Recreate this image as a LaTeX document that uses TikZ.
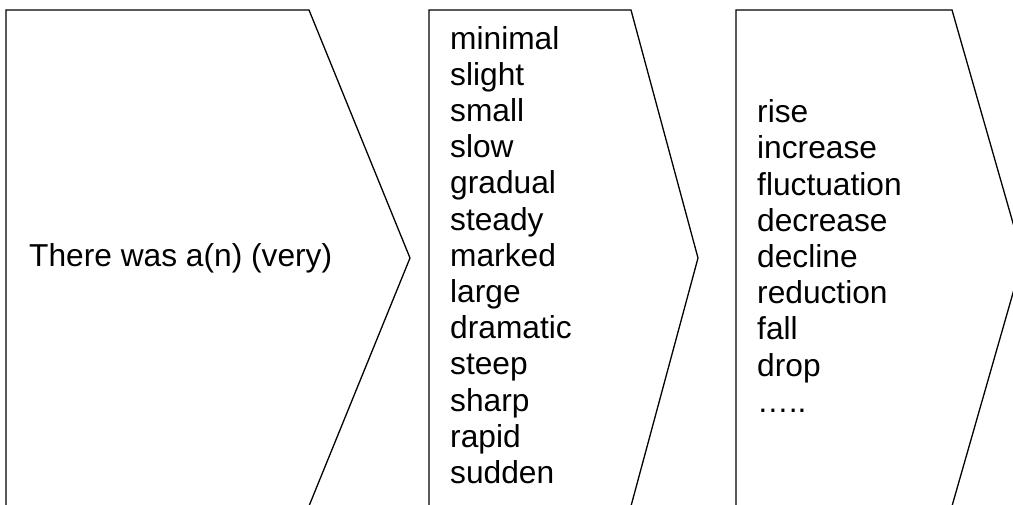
\documentclass[tikz,border=0pt]{standalone}
\usepackage{fontspec}
\setmainfont{Liberation Sans}
\usetikzlibrary{positioning}

\begin{document}
\begin{tikzpicture}[x=1pt, y=-1pt,
    chev/.style={draw=black, line width=1.3pt, line join=miter},
    words/.style={align=left, inner sep=0pt, anchor=west,
      font=\fontsize{31.7}{36.2}\selectfont}]
    \useasboundingbox (0,0) rectangle (1013,504);
    \clip (0,0) rectangle (1013,504);

    % Chevron shapes
    \draw[chev] (6,10) -- (309,10) -- (410,258) -- (309,506) -- (6,506) -- cycle;
    \draw[chev] (429,10) -- (631,10) -- (698,258) -- (631,506) -- (429,506) -- cycle;
    \draw[chev] (736,10) -- (952,10) -- (1023,258) -- (952,506) -- (736,506) -- cycle;

    % Texts
    \node[words] (intro) at (29,258) {There was a(n) (very)};
    \node[words] (sizes) at (450,255) {minimal\\slight\\small\\slow\\gradual\\steady\\marked\\large\\dramatic\\steep\\sharp\\rapid\\sudden};
    \node[words] (trends) at (757,256) {rise\\increase\\fluctuation\\decrease\\decline\\reduction\\fall\\drop\\…..};
\end{tikzpicture}
\end{document}
